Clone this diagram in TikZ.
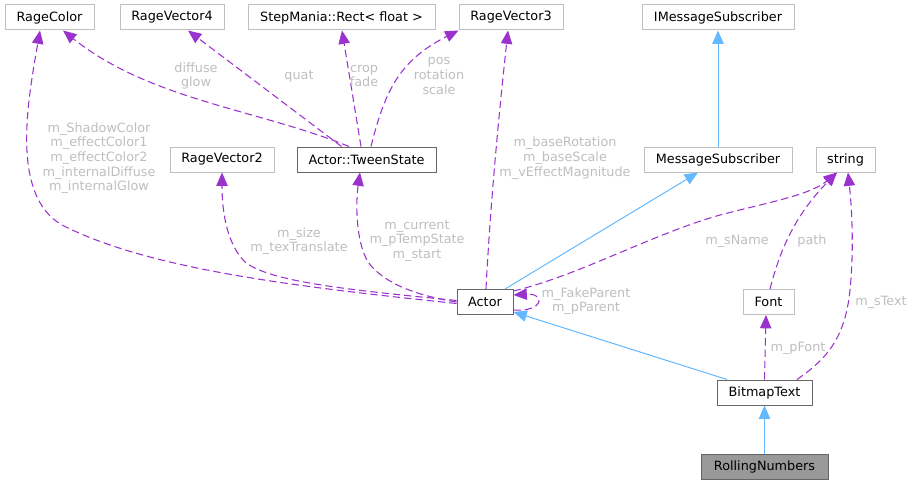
\documentclass[tikz,border=0pt]{standalone}
\usepackage{fontspec}
\setmainfont{DejaVu Sans}
\usetikzlibrary{arrows.meta,calc}
\definecolor{lightbd}{HTML}{BFBFBF}
\definecolor{darkbd}{HTML}{666666}
\definecolor{curfill}{HTML}{999999}
\definecolor{usecol}{HTML}{9A32CD}
\definecolor{inhcol}{HTML}{63B8FF}
\definecolor{lblcol}{HTML}{BEBEBE}
\tikzset{
  cls/.style={draw=lightbd, line width=0.75pt, fill=white, minimum height=18.75pt, inner sep=0pt,
    font=\fontsize{9.6}{11}\selectfont, text=black},
  doc/.style={cls, draw=darkbd},
  cur/.style={cls, draw=darkbd, fill=curfill},
  uses/.style={draw=usecol, line width=0.8pt, dash pattern=on 5.5pt off 3pt,
    -{Triangle[length=10pt,width=8.5pt,fill=usecol]}},
  inh/.style={draw=inhcol, line width=0.75pt, -{Triangle[length=10pt,width=8.5pt,fill=inhcol]}},
  lbl/.style={text=lblcol, align=center, inner sep=0pt, font=\fontsize{9.6}{11}\selectfont}
}
\begin{document}
\begin{tikzpicture}[x=0.75pt,y=-0.75pt]
\useasboundingbox (0,0) rectangle (914,485);
% nodes
\node[cls, minimum width=66.75pt] (ragecolor) at (49.5,17.5) {RageColor};
\node[cls, minimum width=78pt] (ragevec4) at (172,17.5) {RageVector4};
\node[cls, minimum width=140.25pt] (rect) at (341.5,17.5) {StepMania::Rect< float >};
\node[cls, minimum width=78pt] (ragevec3) at (511,17.5) {RageVector3};
\node[cls, minimum width=114pt] (imsgsub) at (718,17.5) {IMessageSubscriber};
\node[cls, minimum width=78pt] (ragevec2) at (222,159.5) {RageVector2};
\node[doc, minimum width=104.25pt] (tween) at (366.5,159.5) {Actor::TweenState};
\node[cls, minimum width=111pt] (msgsub) at (718,159.5) {MessageSubscriber};
\node[cls, minimum width=44.25pt] (string) at (845.5,159.5) {string};
\node[doc, minimum width=42pt] (actor) at (485,302) {Actor};
\node[cls, minimum width=38.25pt] (font) at (768.5,302) {Font};
\node[doc, minimum width=71.25pt] (bitmap) at (764.5,392.5) {BitmapText};
\node[cur, minimum width=95.25pt] (rolling) at (764.5,467) {RollingNumbers};

% uses edges
\draw[uses] ($(actor.west)+(0,1.5)$) .. controls (300,287) and (150,270) .. (62,225)
   .. controls (10,195) and (28,100) .. ($(ragecolor.south)+(-9.5,0)$);
\draw[uses] ($(tween.north)+(-17.5,0)$) .. controls (260,110) and (150,100) .. ($(ragecolor.south)+(13.5,0)$);
\draw[uses] ($(tween.north)+(-25,0)$) -- ($(ragevec4.south)+(16,0)$);
\draw[uses] ($(tween.north)+(-5.5,0)$) -- ($(rect.south)+(0.5,0)$);
\draw[uses] ($(tween.north)+(4.5,0)$) .. controls (385,90) and (400,60) .. (ragevec3.south west);
\draw[uses] ($(actor.west)+(0,-1.5)$) .. controls (350,290) and (270,282) .. (245,262)
   .. controls (228,245) and (222,215) .. (ragevec2.south);
\draw[uses] (actor.west) .. controls (420,296) and (385,285) .. (368,262)
   .. controls (355,240) and (356,200) .. ($(tween.south)+(-6.5,0)$);
\draw[uses] ($(actor.north)+(1,0)$) .. controls (489,230) and (495,150) .. ($(ragevec3.south)+(-3,0)$);
\draw[uses] ($(actor.east)+(0,-11)$) .. controls (580,275) and (650,235) .. (720,215)
   .. controls (770,202) and (810,195) .. ($(string.south)+(-8.5,0)$);
\draw[uses] ($(actor.east)+(0,8)$) .. controls (545,312) and (545,293) .. ($(actor.east)+(0,-7)$);
\draw[uses] ($(font.north)+(1.5,0)$) .. controls (780,250) and (795,215) .. ($(string.south)+(-8.5,0)$);
\draw[uses] (bitmap.north) -- ($(font.south)+(-2.5,0)$);
\draw[uses] ($(bitmap.north)+(32.5,0)$) .. controls (825,360) and (845,340) .. (850,290)
   .. controls (854,250) and (852,210) .. ($(string.south)+(2.5,0)$);

% inheritance edges
\draw[inh] (msgsub.north) -- (imsgsub.south);
\draw[inh] ($(actor.north)+(20,0)$) -- ($(msgsub.south)+(-20,0)$);
\draw[inh] ($(bitmap.north)+(-37.5,0)$) -- ($(actor.east)+(0,10)$);
\draw[inh] (rolling.north) -- (bitmap.south);

% labels
\node[lbl] (l1) at (99,158) {m\_ShadowColor\\m\_effectColor1\\m\_effectColor2\\m\_internalDiffuse\\m\_internalGlow};
\node[lbl] (l2) at (196,76) {diffuse\\glow};
\node[lbl] (l3) at (299,76) {quat};
\node[lbl] (l4) at (364,76) {crop\\fade};
\node[lbl] (l5) at (439,76) {pos\\rotation\\scale};
\node[lbl] (l6) at (565,158) {m\_baseRotation\\m\_baseScale\\m\_vEffectMagnitude};
\node[lbl] (l7) at (299,241) {m\_size\\m\_texTranslate};
\node[lbl] (l8) at (417,241) {m\_current\\m\_pTempState\\m\_start};
\node[lbl] (l9) at (737,241) {m\_sName};
\node[lbl] (l10) at (812,241) {path};
\node[lbl] (l11) at (586,301) {m\_FakeParent\\m\_pParent};
\node[lbl] (l12) at (881,302) {m\_sText};
\node[lbl] (l13) at (798,348) {m\_pFont};
\end{tikzpicture}
\end{document}
